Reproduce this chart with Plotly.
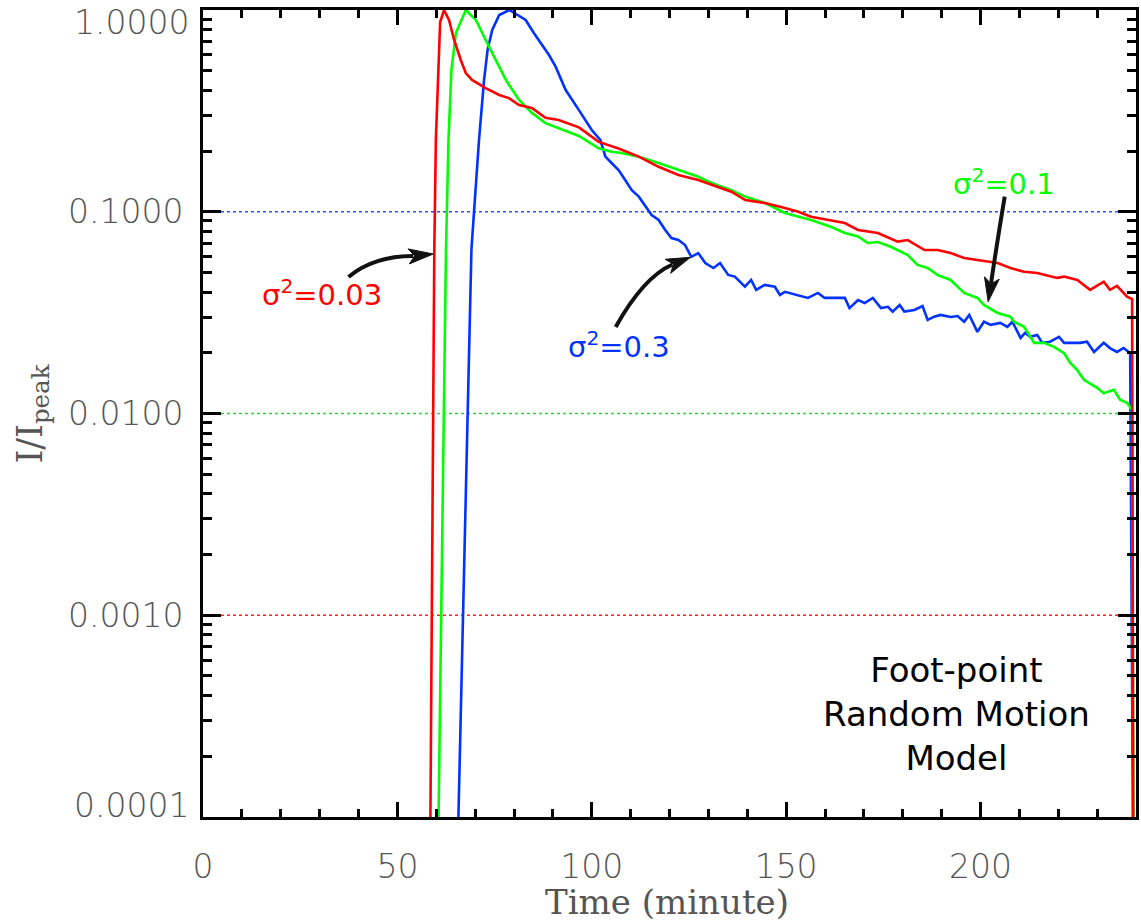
import plotly.graph_objects as go

# ---------------- data ----------------
red_t = [58.4, 58.5, 59.5, 59.9, 61.0, 62.0, 63.3, 64.6, 66.3, 67.6, 69.2, 72.7, 76.2, 78.7,
         81.3, 84.6, 88.1, 91.5, 96.7, 101.8, 106.9, 112.1, 117.2, 122.3, 127.4, 130.8,
         135.9, 139.5, 144.6, 149.7, 153.1, 156.4, 161.5, 165.1, 168.5, 171.0, 173.6,
         178.7, 181.3, 185.6, 189.0, 192.3, 195.8, 199.2, 204.4, 207.7, 211.2, 214.6,
         219.7, 221.5, 224.9, 228.2, 231.7, 233.3, 235.1, 237.7, 239.0, 239.4]
red_i = [8e-5, 1e-4, 0.065, 0.227, 0.87, 1.0, 0.89, 0.71, 0.565, 0.487, 0.45, 0.41, 0.379, 0.366,
         0.338, 0.327, 0.292, 0.285, 0.262, 0.222, 0.206, 0.1875, 0.167, 0.152, 0.1437, 0.1358,
         0.1257, 0.1143, 0.1105, 0.1044, 0.100, 0.0945, 0.091, 0.0879, 0.0812, 0.0796, 0.0785,
         0.0711, 0.0724, 0.0646, 0.0646, 0.0624, 0.059, 0.0577, 0.0557, 0.0526, 0.0504, 0.0497,
         0.047, 0.0477, 0.0459, 0.041, 0.045, 0.041, 0.0429, 0.0379, 0.0369, 1e-5]

green_t = [60.5, 60.6, 62.5, 63.15, 63.9, 65.05, 67.6, 70.2, 72.7, 75.3, 77.9, 81.3, 84.6, 88.1,
           91.5, 96.7, 101.8, 105.1, 107.7, 112.1, 117.2, 122.3, 127.4, 130.8, 135.9, 139.5,
           144.6, 149.7, 153.1, 156.4, 161.5, 165.1, 168.5, 171.0, 173.6, 176.9, 181.3, 183.8,
           186.4, 189.0, 192.3, 195.8, 199.2, 200.9, 204.4, 207.7, 208.6, 211.2, 213.8, 216.3,
           218.9, 221.5, 223.1, 224.9, 226.6, 230.0, 231.7, 234.3, 235.9, 237.7, 239.0, 239.5]
green_i = [8e-5, 1e-4, 0.065, 0.227, 0.504, 0.769, 1.0, 0.892, 0.71, 0.565, 0.45, 0.358, 0.309, 0.275,
           0.260, 0.2375, 0.2063, 0.1985, 0.1954, 0.1875, 0.1745, 0.161, 0.149, 0.1388, 0.128, 0.1188,
           0.1105, 0.0986, 0.0945, 0.091, 0.0843, 0.0785, 0.0754, 0.070, 0.0708, 0.0671, 0.061, 0.0545,
           0.0526, 0.0486, 0.0459, 0.0396, 0.0374, 0.0345, 0.0315, 0.0302, 0.0285, 0.0269, 0.0224, 0.0224,
           0.0214, 0.0199, 0.0178, 0.0164, 0.0147, 0.0134, 0.0126, 0.0131, 0.0117, 0.0113, 0.0104, 1e-5]

blue_t = [65.6, 65.7, 69.05, 71.0, 72.3, 73.2, 74.4, 76.2, 78.8, 83.0, 85.1, 87.3, 89.0, 90.7,
          93.3, 96.7, 100.0, 102.2, 103.5, 105.1, 106.9, 108.6, 110.3, 112.1, 113.8, 115.4,
          117.2, 118.9, 120.5, 122.3, 124.0, 125.6, 127.4, 129.2, 131.3, 133.0, 135.1, 136.8,
          139.4, 141.0, 142.3, 144.5, 147.1, 148.4, 149.7, 153.1, 155.6, 158.2, 159.9, 165.1,
          166.3, 168.5, 170.2, 172.3, 174.4, 176.2, 177.4, 179.2, 180.4, 183.0, 185.1, 186.4,
          188.1, 189.7, 192.3, 194.1, 195.8, 197.1, 199.2, 200.9, 202.6, 205.1, 206.9, 208.2,
          210.3, 211.5, 212.8, 214.6, 215.9, 217.9, 220.2, 221.5, 223.1, 225.6, 227.4, 229.2,
          231.7, 233.3, 235.1, 236.8, 238.5, 239.5]
blue_i = [8e-5, 1e-4, 0.065, 0.227, 0.45, 0.633, 0.796, 0.944, 1.0, 0.892, 0.769, 0.67, 0.598, 0.524,
          0.401, 0.319, 0.254, 0.227, 0.1875, 0.1745, 0.161, 0.1437, 0.128, 0.1188, 0.106, 0.0964,
          0.091, 0.0812, 0.0741, 0.0724, 0.0684, 0.0598, 0.0624, 0.0557, 0.0526, 0.0557, 0.0486, 0.0477,
          0.0425, 0.0459, 0.041, 0.0434, 0.0425, 0.0387, 0.0401, 0.0387, 0.0374, 0.0396, 0.0374, 0.0374,
          0.0333, 0.0365, 0.0353, 0.0374, 0.0333, 0.0338, 0.032, 0.0345, 0.032, 0.0326, 0.0341, 0.0291,
          0.0302, 0.0308, 0.0301, 0.0304, 0.0285, 0.0308, 0.0254, 0.0285, 0.0275, 0.0281, 0.0269, 0.0285,
          0.0237, 0.0251, 0.024, 0.0245, 0.0224, 0.0227, 0.024, 0.0224, 0.0224, 0.0224, 0.0227, 0.0202,
          0.0224, 0.0211, 0.0202, 0.0211, 0.0199, 1e-5]

ref_levels = [0.1, 0.01, 0.001]
ref_colors = ["#2a4dff", "#22dd22", "#ff2020"]
x_span = [0, 240]

y_tickvals = [1e-4, 1e-3, 1e-2, 1e-1, 1]
y_ticktext = ["0.0001", "0.0010", "0.0100", "0.1000", "1.0000"]
y_minor = [k * 10.0 ** d for d in range(-4, 0) for k in range(2, 10)]
x_tickvals = [0, 50, 100, 150, 200]
x_ticktext = ["0", "50", "100", "150", "200"]

RED, GREEN, BLUE = "#ff0000", "#00ff00", "#0033ff"

# ---------------- layout geometry helpers (pixels -> paper) ----------------
L, R, T, B = 203, 1139, 10, 817
def px(x):
    return (x - L) / (R - L)
def py(y):
    return (B - y) / (B - T)

fig = go.Figure()

for lvl, col in zip(ref_levels, ref_colors):
    fig.add_trace(go.Scatter(x=x_span, y=[lvl, lvl], mode="lines",
                             line=dict(color=col, width=1.6, dash="dot"),
                             hoverinfo="skip", showlegend=False))

for t, i, c in [(blue_t, blue_i, BLUE), (green_t, green_i, GREEN), (red_t, red_i, RED)]:
    fig.add_trace(go.Scatter(x=t, y=i, mode="lines", line=dict(color=c, width=2.6),
                             showlegend=False))

# ---------------- arrows ----------------
ARROW = "#111111"
def shaft(p0, c, p2):
    return dict(type="path", xref="paper", yref="paper",
                path=f"M {px(p0[0])},{py(p0[1])} Q {px(c[0])},{py(c[1])} {px(p2[0])},{py(p2[1])}",
                line=dict(color=ARROW, width=4))
def head(tip, a, notch, b):
    pts = [tip, a, notch, b]
    path = "M " + " L ".join(f"{px(x)},{py(y)}" for x, y in pts) + " Z"
    return dict(type="path", xref="paper", yref="paper", path=path,
                fillcolor=ARROW, line=dict(color=ARROW, width=1))

shapes = [
    shaft((349, 277), (374, 256), (414, 256)),
    head((434, 254), (408.7, 248.9), (415.4, 255.8), (410.1, 263.9)),
    shaft((617, 327), (645, 277), (674, 264.5)),
    head((692, 257.3), (666.6, 259.3), (675, 264), (672.2, 273.3)),
    shaft((1007.3, 196.7), (1000, 240), (993.6, 283)),
    head((990.7, 301.7), (987, 276.8), (993.5, 283.9), (1001.8, 279.2)),
]

LABEL_FONT = "DejaVu Sans"
tick_font = dict(family="DejaVu Sans", size=33, color="#555555", weight=200)

def label(text, x, y, color, size=29, family=LABEL_FONT, **kw):
    d = dict(text=text, x=px(x), y=py(y), xref="paper", yref="paper",
             xanchor="center", yanchor="middle", showarrow=False, align="center",
             font=dict(family=family, size=size, color=color))
    d.update(kw)
    return d

# the two end labels of the log axis sit inside the plot height (as in the original)
edge_labels = [
    dict(text=y_ticktext[-1], x=px(191), y=py(22), xref="paper", yref="paper",
         xanchor="right", yanchor="middle", showarrow=False, font=tick_font),
    dict(text=y_ticktext[0], x=px(191), y=py(805), xref="paper", yref="paper",
         xanchor="right", yanchor="middle", showarrow=False, font=tick_font),
]

annotations = [
    label("σ<sup>2</sup>=0.03", 322, 293, RED),
    label("σ<sup>2</sup>=0.3", 620, 345, BLUE),
    label("σ<sup>2</sup>=0.1", 1007, 182, GREEN),
    label("Foot-point<br>Random Motion<br>Model", 959, 714, "#000000", size=34),
    label("I/I<sub>peak</sub>", 31, 414, "#555555", size=35, family="DejaVu Serif",
          textangle=-90),
    label("Time (minute)", 668, 902, "#555555", size=34, family="DejaVu Serif"),
] + edge_labels

fig.update_layout(
    width=1141, height=924,
    margin=dict(l=L, r=1141 - R, t=T, b=924 - B),
    paper_bgcolor="white", plot_bgcolor="white",
    shapes=shapes, annotations=annotations,
    xaxis=dict(range=[0, 240], showgrid=False, zeroline=False,
               showline=True, linecolor="black", linewidth=3, mirror="ticks",
               ticks="inside", ticklen=15, tickwidth=2.5, tickcolor="black",
               tickmode="array", tickvals=x_tickvals, ticktext=x_ticktext,
               minor=dict(ticks="inside", ticklen=8, tickwidth=2.5, tickcolor="black",
                          tickmode="array", tickvals=[v for v in range(10, 240, 10) if v % 50],
                          showgrid=False),
               tickfont=tick_font, ticklabelstandoff=18),
    yaxis=dict(type="log", range=[-4, 0], showgrid=False, zeroline=False,
               showline=True, linecolor="black", linewidth=3, mirror="ticks",
               ticks="inside", ticklen=18, tickwidth=2.5, tickcolor="black",
               tickmode="array", tickvals=y_tickvals[1:-1], ticktext=y_ticktext[1:-1],
               minor=dict(ticks="inside", ticklen=9, tickwidth=2.5, tickcolor="black",
                          tickmode="array", tickvals=y_minor, showgrid=False),
               tickfont=tick_font, ticklabelstandoff=10),
)

fig.write_html("out.html")
